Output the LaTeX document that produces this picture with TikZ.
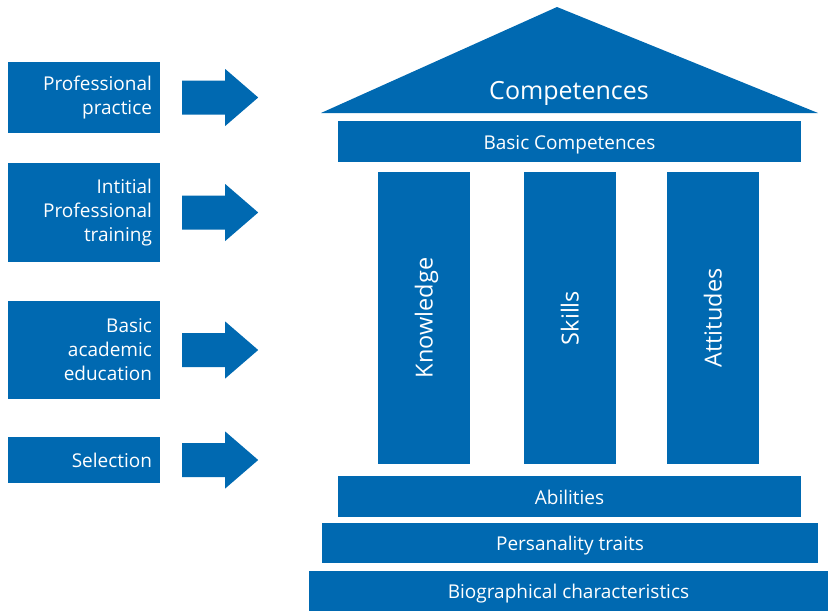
\documentclass[tikz,border=0pt]{standalone}
\usepackage{fontspec}
\setmainfont{Open Sans}
\usepackage{tikz}
\usetikzlibrary{positioning}

\definecolor{brand}{RGB}{0,105,177}

\begin{document}
\begin{tikzpicture}[
    x=1pt, y=-1pt,
    block/.style={rectangle, fill=brand, text=white, inner sep=0pt, font=\fontsize{19}{24}\selectfont},
    source/.style={block, minimum width=152pt, text width=136pt, align=right},
    layer/.style={block, minimum height=41pt, text height=15pt, text depth=0pt},
    pillar/.style={block, rotate=90, minimum width=292pt, minimum height=92pt,
        font=\fontsize{23.5}{28}\selectfont, text height=17pt, text depth=0pt}
]
    \useasboundingbox (0,0) rectangle (828,611);

    % influences on the left
    \node[source, minimum height=71pt] (pp) at (84,97.5) {Professional\\practice};
    \node[source, minimum height=99pt] (ipt) at (84,212.5) {Intitial\\Professional\\training};
    \node[source, minimum height=98pt] (bae) at (84,350) {Basic\\academic\\education};
    \node[source, minimum height=46pt] (sel) at (84,460) {Selection};

    \foreach \n in {pp,ipt,bae,sel}
        \fill[brand] ([xshift=22pt]\n.east) ++(0,-17) -- ++(43,0) -- ++(0,-11.5) -- ++(33,28.5)
            -- ++(-33,28.5) -- ++(0,-11.5) -- ++(-43,0) -- cycle;

    % the house
    \coordinate (roofl) at (321,113);
    \coordinate (rooft) at (557,7);
    \coordinate (roofr) at (818,113);
    \fill[brand] (roofl) -- (rooft) -- (roofr) -- cycle;
    \node[text=white, font=\fontsize{25}{30}\selectfont] (comp) at (569,93) {Competences};

    \node[layer, minimum width=463pt] (basic) at (569.5,141.5) {Basic Competences};

    \node[pillar] (know) at (424,318) {Knowledge};
    \node[pillar] (skill) at (570,318) {Skills};
    \node[pillar] (att) at (713,318) {Attitudes};

    \node[layer, minimum width=463pt] (abil) at (569.5,496.5) {Abilities};
    \node[layer, minimum width=496pt, minimum height=40pt] (pers) at (570,543) {Persanality traits};
    \node[layer, minimum width=519pt, minimum height=40pt] (bio) at (568.5,591) {Biographical characteristics};

\end{tikzpicture}
\end{document}
